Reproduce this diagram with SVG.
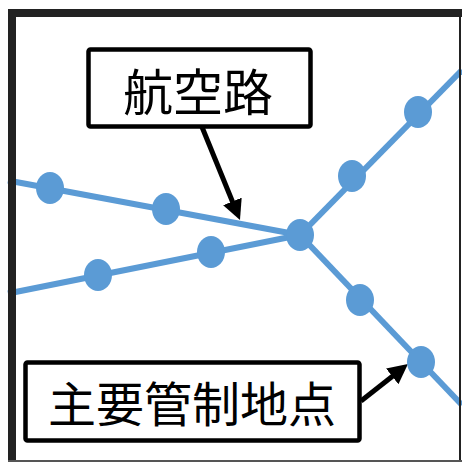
<svg xmlns="http://www.w3.org/2000/svg" width="462" height="462" viewBox="0 0 462 462">
  <style>
    .route { stroke: #5B9BD5; stroke-width: 6; fill: none; }
    .wp { fill: #5B9BD5; }
    .box { fill: #FFFFFF; stroke: #000000; stroke-width: 4.5; }
    .label { font-family: "Noto Sans CJK JP", "Noto Sans CJK SC", sans-serif; fill: #000000; text-anchor: middle; dominant-baseline: central; }
    .arrow { stroke: #000000; stroke-width: 5; fill: none; }
  </style>
  <defs>
    <marker id="ah" markerUnits="userSpaceOnUse" markerWidth="20" markerHeight="20" refX="10" refY="10" orient="auto" viewBox="0 0 20 20">
      <path d="M0,0 L20,10 L0,20 z" fill="#000000"/>
    </marker>
  </defs>
  <rect x="0" y="0" width="462" height="462" fill="#FFFFFF"/>
  <g id="connectors">
    <line class="route" x1="8" y1="180.5" x2="300" y2="235"/>
    <line class="route" x1="8" y1="293.5" x2="300" y2="235"/>
    <line class="route" x1="300" y1="235" x2="462" y2="70"/>
    <line class="route" x1="300" y1="235" x2="462" y2="405"/>
    <line class="arrow" x1="202" y1="127" x2="236.2" y2="210.7" marker-end="url(#ah)"/>
    <line class="arrow" x1="361" y1="401" x2="400.1" y2="370.2" marker-end="url(#ah)"/>
  </g>
  <g id="waypoints">
    <ellipse class="wp" cx="50" cy="188" rx="14" ry="16"/>
    <ellipse class="wp" cx="166" cy="209" rx="14" ry="16"/>
    <ellipse class="wp" cx="98" cy="275" rx="14" ry="16"/>
    <ellipse class="wp" cx="211" cy="252" rx="14" ry="16"/>
    <ellipse class="wp" cx="300" cy="235" rx="14" ry="16"/>
    <ellipse class="wp" cx="352" cy="176" rx="14" ry="16"/>
    <ellipse class="wp" cx="418" cy="112" rx="14" ry="16"/>
    <ellipse class="wp" cx="360" cy="300" rx="14" ry="16"/>
    <ellipse class="wp" cx="421" cy="362" rx="14" ry="16"/>
  </g>
  <g id="label-airway">
    <rect class="box" x="88.5" y="49.5" width="222" height="77" rx="2"/>
    <text class="label" x="198" y="89" font-size="50">航空路</text>
  </g>
  <g id="label-control">
    <rect class="box" x="25.5" y="362.5" width="334" height="78" rx="2"/>
    <text class="label" x="192" y="401" font-size="48">主要管制地点</text>
  </g>
  <g id="frame">
    <rect x="8" y="9" width="454" height="8" fill="#222222"/>
    <rect x="8" y="9" width="8" height="453" fill="#222222"/>
    <rect x="459" y="9" width="2" height="453" fill="#222222"/>
    <rect x="8" y="460" width="454" height="2" fill="#555555"/>
  </g>
</svg>
